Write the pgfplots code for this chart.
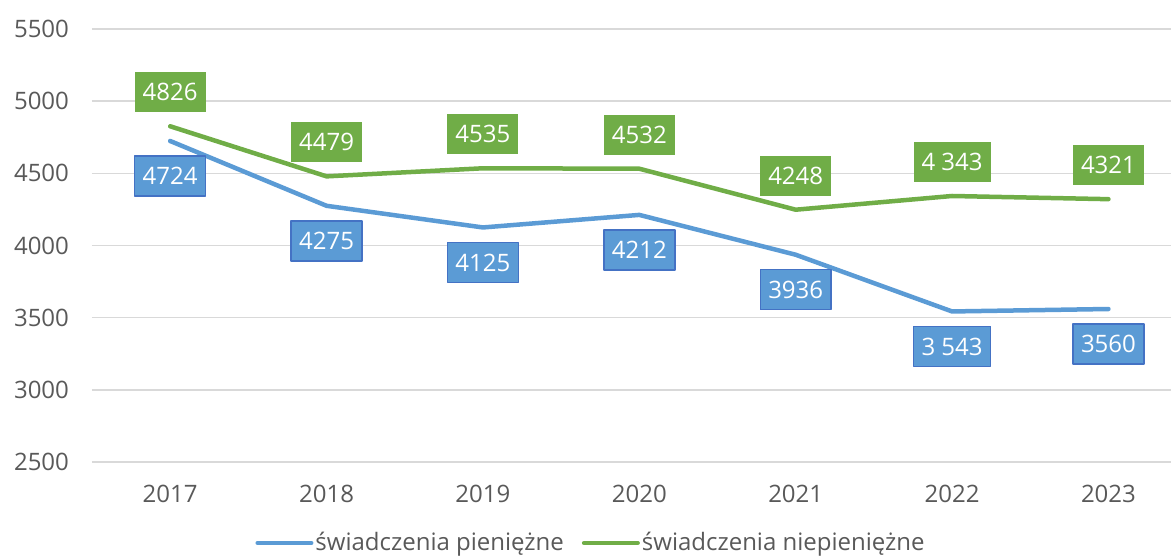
\documentclass[border=0pt]{standalone}
\usepackage{pgfplots}
\pgfplotsset{compat=1.18}
\usepackage{fontspec}
\setmainfont{Open Sans}
\definecolor{cblue}{RGB}{91,155,213}
\definecolor{cgreen}{RGB}{112,173,71}
\definecolor{cborder}{RGB}{68,114,196}
\definecolor{ctext}{RGB}{89,89,89}
\definecolor{cgrid}{RGB}{217,217,217}
\begin{document}
\begin{tikzpicture}
\begin{axis}[
  name=ax,
  at={(0pt,0pt)}, anchor=south west,
  scale only axis, width=539.5pt, height=216.5pt,
  xmin=-0.5, xmax=6.40, ymin=2500, ymax=5500,
  ytick={2500,3000,3500,4000,4500,5000,5500},
  xtick={0,1,2,3,4,5,6},
  xticklabels={2017,2018,2019,2020,2021,2022,2023},
  /pgf/number format/1000 sep={},
  /pgf/number format/assume math mode=true,
  axis line style={draw=none},
  major tick length=0pt,
  ymajorgrids, grid style={cgrid, line width=0.75pt},
  tick label style={font=\fontsize{12}{14}\selectfont, text=ctext},
  yticklabel style={xshift=-8pt},
  xticklabel style={yshift=-8pt},
  clip=false,
  point meta=explicit symbolic,
  legend columns=2,
  legend style={draw=none, fill=none, at={(0.4625,-0.187)}, anchor=center,
    font=\fontsize{12}{14}\selectfont, text=ctext,
    /tikz/every even column/.append style={column sep=8pt},
    inner sep=0pt, nodes={inner sep=1pt}},
  legend image code/.code={\draw[#1, line width=2pt] (0pt,0pt) -- (27pt,0pt);},
]
\addplot[cblue, line width=2.25pt, line join=round, line cap=round,
  nodes near coords={\pgfplotspointmeta},
  every node near coord/.append style={anchor=center, yshift=-17.5pt, fill=cblue, draw=cborder, line width=0.75pt, text=white,
    font=\fontsize{12}{14}\selectfont, inner xsep=4pt, minimum height=20pt}]
  coordinates {(0,4724)[4724] (1,4275)[4275] (2,4125)[4125] (3,4212)[4212] (4,3936)[3936] (5,3543)[3 543] (6,3560)[3560]};
\addplot[cgreen, line width=2.25pt, line join=round, line cap=round,
  nodes near coords={\pgfplotspointmeta},
  every node near coord/.append style={anchor=center, yshift=17pt, fill=cgreen, text=white,
    font=\fontsize{12}{14}\selectfont, inner xsep=4pt, minimum height=20pt}]
  coordinates {(0,4826)[4826] (1,4479)[4479] (2,4535)[4535] (3,4532)[4532] (4,4248)[4248] (5,4343)[4 343] (6,4321)[4321]};
\legend{świadczenia pieniężne, świadczenia niepieniężne}
\end{axis}
\pgfresetboundingbox
\path (-46pt,-47pt) rectangle (539.5pt,231pt);
\end{tikzpicture}
\end{document}
